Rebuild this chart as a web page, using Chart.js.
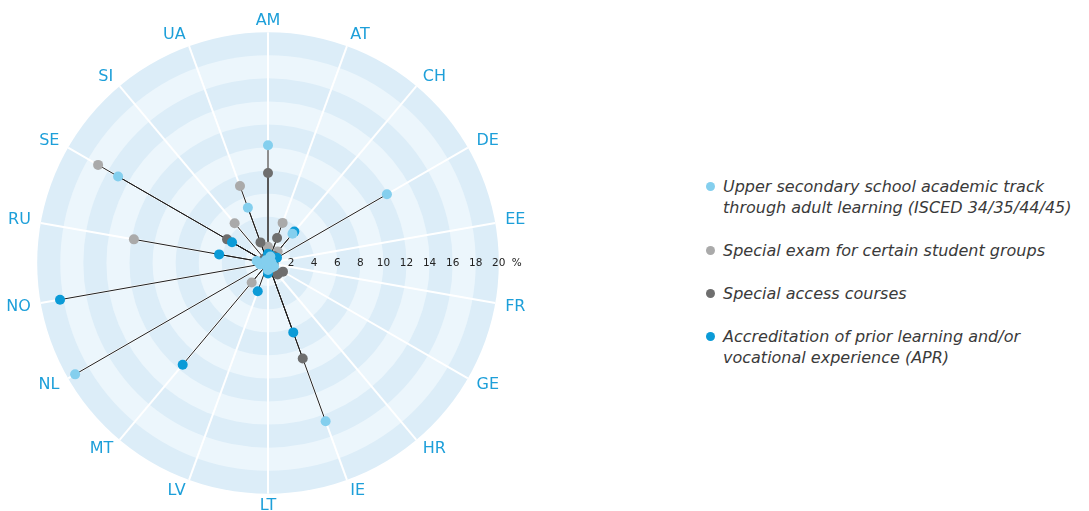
<!DOCTYPE html>
<html>
<head>
<meta charset="utf-8">
<script src="https://cdn.jsdelivr.net/npm/chart.js@4.4.1/dist/chart.umd.min.js"></script>
<style>
  html, body { margin: 0; padding: 0; background: #fff; overflow: hidden; }
  body { width: 1089px; height: 511px; position: relative; }
  #chart { position: absolute; left: 0; top: 0; }
  #legend { position: absolute; left: 703px; top: 176px; width: 372px; font-family: 'DejaVu Sans', sans-serif; font-style: italic; font-size: 16px; line-height: 21px; color: #3a3a3a; }
  #legend .item { position: relative; padding-left: 20px; margin-bottom: 22px; }
  #legend .dot { position: absolute; left: 3px; top: 6px; width: 9px; height: 9px; border-radius: 50%; }
</style>
</head>
<body>
<canvas id="chart" width="533" height="527"></canvas>
<div id="legend"></div>
<script>
const CATEGORIES = ['AM', 'AT', 'CH', 'DE', 'EE', 'FR', 'GE', 'HR', 'IE', 'LT', 'LV', 'MT', 'NL', 'NO', 'RU', 'SE', 'SI', 'UA']

const SERIES_NAMES = [
  'Upper secondary school academic track through adult learning (ISCED 34/35/44/45)',
  'Special exam for certain student groups',
  'Special access courses',
  'Accreditation of prior learning and/or vocational experience (APR)'
]

const UPPER_SECONDARY = [10.2, 0.6, 3.3, 11.9, 0.3, 0.2, 0.6, 0.5, 14.6, 0.6, 0.3, 0.2, 19.3, 0.7, 1.0, 15.0, 0.3, 5.1]
const SPECIAL_EXAM    = [1.4, 3.7, 1.3, 0.3, 0.2, 0.3, 0.3, 0.3, 0.3, 0.3, 0.3, 2.2, 0.3, 0.3, 11.8, 17.0, 4.5, 7.1]
const ACCESS_COURSES  = [7.8, 2.3, 0.8, 0.4, 0.3, 0.5, 1.5, 1.3, 8.8, 0.5, 0.3, 0.3, 0.3, 0.3, 0.3, 4.1, 0.5, 1.9]
const APR             = [0.8, 0.7, 3.55, 0.9, 0.3, 0.3, 0.3, 0.3, 6.4, 0.9, 2.6, 11.5, 0.3, 18.3, 4.3, 3.6, 0.3, 0.3]

const TICK_VALUES = [2, 4, 6, 8, 10, 12, 14, 16, 18, 20]
const TICK_UNIT = '%'

const COLORS = ['#84cfee', '#aaaaaa', '#6e6e6e', '#0b9bd7']
const BAND_DARK = '#dcedf8'
const BAND_LIGHT = '#ecf6fc'

// alternating rings, drawn under the scale's angle lines
const bandsPlugin = {
  id: 'bands',
  beforeDraw(chart) {
    const r = chart.scales.r
    const ctx = chart.ctx
    ctx.save()
    for (let i = TICK_VALUES.length - 1; i >= 0; i--) {
      const rad = r.getDistanceFromCenterForValue(TICK_VALUES[i])
      ctx.beginPath()
      ctx.arc(r.xCenter, r.yCenter, rad, 0, Math.PI * 2)
      ctx.fillStyle = (TICK_VALUES.length - 1 - i) % 2 === 0 ? BAND_DARK : BAND_LIGHT
      ctx.fill()
    }
    ctx.restore()
  }
}

// spokes from centre to each point + horizontal tick labels
const spokesPlugin = {
  id: 'spokes',
  beforeDatasetsDraw(chart) {
    const r = chart.scales.r
    const ctx = chart.ctx
    ctx.save()
    ctx.strokeStyle = '#1e1e1e'
    ctx.lineWidth = 1
    chart.data.datasets.forEach((ds, di) => {
      chart.getDatasetMeta(di).data.forEach(pt => {
        ctx.beginPath()
        ctx.moveTo(r.xCenter, r.yCenter)
        ctx.lineTo(pt.x, pt.y)
        ctx.stroke()
      })
    })
    ctx.font = '10.5px "DejaVu Sans"'
    ctx.fillStyle = '#222'
    ctx.textAlign = 'center'
    ctx.textBaseline = 'middle'
    TICK_VALUES.forEach(v => {
      ctx.fillText(String(v), r.xCenter + r.getDistanceFromCenterForValue(v), r.yCenter)
    })
    const last = TICK_VALUES[TICK_VALUES.length - 1]
    ctx.fillText(TICK_UNIT, r.xCenter + r.getDistanceFromCenterForValue(last) + 18, r.yCenter)
    ctx.restore()
  }
}

const seriesData = [UPPER_SECONDARY, SPECIAL_EXAM, ACCESS_COURSES, APR]
const drawOrder = [0, 3, 2, 1]

const chart = new Chart(document.getElementById('chart'), {
  type: 'radar',
  data: {
    labels: CATEGORIES,
    datasets: seriesData.map((d, i) => ({
      label: SERIES_NAMES[i],
      data: d,
      order: drawOrder[i],
      showLine: false,
      fill: false,
      borderWidth: 0,
      backgroundColor: COLORS[i],
      pointBackgroundColor: COLORS[i],
      pointBorderWidth: 0,
      pointRadius: 5,
      pointHoverRadius: 5
    }))
  },
  options: {
    responsive: false,
    animation: false,
    events: [],
    layout: { padding: { top: 20, bottom: 19 } },
    plugins: { legend: { display: false }, tooltip: { enabled: false } },
    scales: {
      r: {
        min: 0,
        max: 20,
        ticks: { display: false, stepSize: 2 },
        grid: { display: false },
        angleLines: { color: '#ffffff', lineWidth: 2 },
        pointLabels: { color: '#1d9fd9', padding: 10, font: { family: 'DejaVu Sans', size: 16, lineHeight: 0.2 } }
      }
    }
  },
  plugins: [bandsPlugin, spokesPlugin]
})

const legend = document.getElementById('legend')
chart.data.datasets.forEach((ds, i) => {
  const item = document.createElement('div')
  item.className = 'item'
  const dot = document.createElement('span')
  dot.className = 'dot'
  dot.style.background = COLORS[i]
  item.appendChild(dot)
  item.appendChild(document.createTextNode(ds.label))
  legend.appendChild(item)
})
</script>
</body>
</html>
